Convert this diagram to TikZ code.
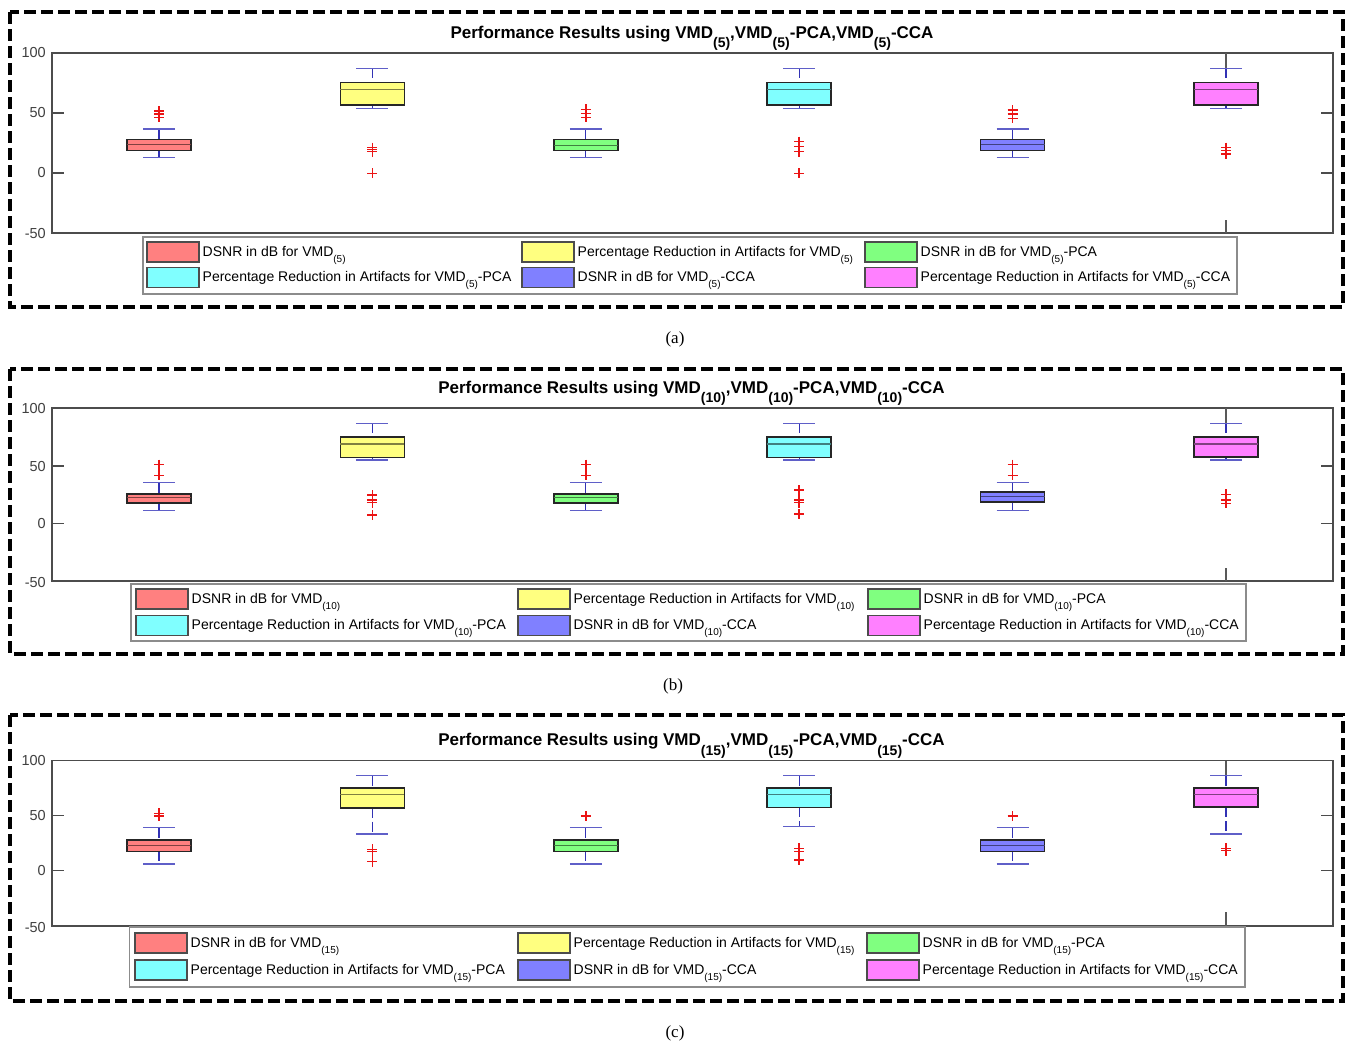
\documentclass[tikz,border=0pt]{standalone}
\usepackage{fontspec}
\setmainfont{Liberation Sans}
\newfontfamily\capserif{Liberation Serif}
\definecolor{cred}{RGB}{255,128,128}
\definecolor{cyel}{RGB}{255,255,128}
\definecolor{cgrn}{RGB}{128,255,128}
\definecolor{ccya}{RGB}{128,255,255}
\definecolor{cblu}{RGB}{128,128,255}
\definecolor{cmag}{RGB}{255,128,255}
\definecolor{wblue}{RGB}{50,50,180}
\definecolor{capblue}{RGB}{95,95,200}
\definecolor{ored}{RGB}{235,20,20}
\newcommand\lsub[1]{\raisebox{-6pt}{\fontsize{10}{10}\selectfont #1}}
\newcommand\tsub[1]{\raisebox{-9.5pt}{\fontsize{14}{14}\selectfont\bfseries #1}}
\tikzset{
  dashframe/.style={line width=3.2pt, dash pattern=on 12pt off 5pt, black},
  axesbox/.style={draw=black!70, line width=1.2pt},
  tickl/.style={draw=black!70, line width=1.1pt},
  ticklab/.style={font=\fontsize{14.5}{14.5}\selectfont, text=black!75, anchor=east, inner sep=0pt},
  whisk/.style={draw=wblue, line width=1.2pt, dash pattern=on 10pt off 4pt},
  extl/.style={draw=black!65, line width=1.2pt},
  capl/.style={draw=capblue, line width=1.5pt},
  boxs/.style={draw=black!85, line width=1.6pt},
  outs/.style={draw=ored, line width=1.5pt},
  legbox/.style={draw=black!45, line width=1.3pt, fill=white},
  legp/.style={draw=black!70, line width=1.1pt},
  legt/.style={font=\fontsize{14}{14}\selectfont, inner sep=0pt, anchor=base west},
  ttl/.style={font=\fontsize{17}{17}\selectfont\bfseries, inner sep=0pt, anchor=base},
  capt/.style={font=\capserif\fontsize{17}{17}\selectfont, inner sep=0pt}
}
% box plot: #1 x, #2 box top, #3 box bottom, #4 median, #5 top cap, #6 bottom cap, #7 colour
\newcommand\bxp[7]{%
  \draw[whisk] (#1,#5) -- (#1,#2);
  \draw[whisk] (#1,#3) -- (#1,#6);
  \draw[capl] (#1-16,#5) -- (#1+16,#5);
  \draw[capl] (#1-16,#6) -- (#1+16,#6);
  \draw[boxs, fill=#7] (#1-32,#2) rectangle (#1+32,#3);
  \draw[draw=#7!50!black, line width=1.3pt] (#1-32,#4) -- (#1+32,#4);
}
\newcommand\outl[2]{%
  \foreach \yy in {#2} {\draw[outs] (#1-5,\yy) -- (#1+5,\yy) (#1,\yy-5) -- (#1,\yy+5);}
}
% legend entry: #1 name, #2 patch x, #3 row y, #4 colour, #5 text
\newcommand\legent[5]{%
  \draw[legp, fill=#4] (#2,#3-10) rectangle (#2+52,#3+10);
  \node[legt] (#1) at (#2+55.5,#3+4) {#5};
}
% axes: #1 top, #2 50, #3 0, #4 -50, #5 prefix
\newcommand\axs[5]{%
  \draw[axesbox] (52,#1) rectangle (1333,#4);
  \foreach \ty in {#1,#2,#3,#4} {\draw[tickl] (52,\ty) -- (64,\ty);}
  \foreach \ty in {#2,#3} {\draw[tickl] (1321,\ty) -- (1333,\ty);}
  \node[ticklab] (#5t1) at (46,#1) {100};
  \node[ticklab] (#5t2) at (46,#2) {50};
  \node[ticklab] (#5t3) at (46,#3) {0};
  \node[ticklab] (#5t4) at (46,#4+1) {-50};
}
\begin{document}
\begin{tikzpicture}[x=1pt,y=-1pt]
\useasboundingbox[fill=white] (0,0) rectangle (1349,1045);

% ================= panel (a)
\draw[dashframe] (10,12) rectangle (1343,307);
\node[ttl] (ta) at (692,38) {Performance Results using VMD\tsub{(5)},VMD\tsub{(5)}-PCA,VMD\tsub{(5)}-CCA};
\axs{53}{113}{173}{233}{a}
\draw[extl] (1226,53) -- (1226,68.3);
\draw[extl] (1226,220) -- (1226,233);
\bxp{159}{139.3}{150.3}{144.3}{129}{157.7}{cred}
\outl{159}{111,114,117.3}
\bxp{372.4}{82.3}{105}{89.3}{68.3}{108.7}{cyel}
\outl{372.4}{147.7,149.7,151.7,173.3}
\bxp{585.8}{139.3}{150.3}{145.3}{129}{157.7}{cgrn}
\outl{585.8}{109.3,113.3,117.3}
\bxp{799.2}{82.3}{105}{89.3}{68.3}{108.7}{ccya}
\outl{799.2}{141.7,146.7,151.7,173.3}
\bxp{1012.6}{139.3}{150.3}{144.3}{129}{157.7}{cblu}
\outl{1012.6}{110,114,118.3}
\bxp{1226}{82.3}{105}{89.3}{68.3}{108.7}{cmag}
\outl{1226}{147.7,150.7,154}
\draw[legbox] (143,237) rectangle (1237,294);
\legent{la1}{147}{252}{cred}{DSNR in dB for VMD\lsub{(5)}}
\legent{la2}{522}{252}{cyel}{Percentage Reduction in Artifacts for VMD\lsub{(5)}}
\legent{la3}{865}{252}{cgrn}{DSNR in dB for VMD\lsub{(5)}-PCA}
\legent{la4}{147}{277.5}{ccya}{Percentage Reduction in Artifacts for VMD\lsub{(5)}-PCA}
\legent{la5}{522}{277.5}{cblu}{DSNR in dB for VMD\lsub{(5)}-CCA}
\legent{la6}{865}{277.5}{cmag}{Percentage Reduction in Artifacts for VMD\lsub{(5)}-CCA}
\node[capt] (capa) at (675,339) {(a)};

% ================= panel (b)
\draw[dashframe] (10,369) rectangle (1343,654);
\node[ttl] (tb) at (691.5,393.3) {Performance Results using VMD\tsub{(10)},VMD\tsub{(10)}-PCA,VMD\tsub{(10)}-CCA};
\axs{408}{466}{523.3}{581}{b}
\draw[extl] (1226,408) -- (1226,423.3);
\draw[extl] (1226,568) -- (1226,581);
\bxp{159}{494}{502.7}{497.3}{482.7}{510.3}{cred}
\outl{159}{464.7,475.3}
\bxp{372.4}{436.7}{457.3}{444}{423.3}{460}{cyel}
\outl{372.4}{495,500,502.7,515}
\bxp{585.8}{494}{502.7}{497.3}{482.7}{510.3}{cgrn}
\outl{585.8}{464.7,475.3}
\bxp{799.2}{436.7}{457.3}{444}{423.3}{460}{ccya}
\outl{799.2}{490,500,502.7,514}
\bxp{1012.6}{491.7}{502}{496.7}{482.7}{510.3}{cblu}
\outl{1012.6}{464.7,475.3}
\bxp{1226}{436.7}{456.7}{444}{423.3}{460}{cmag}
\outl{1226}{494.3,500,503.3}
\draw[legbox] (131,584) rectangle (1246,641);
\legent{lb1}{136}{599}{cred}{DSNR in dB for VMD\lsub{(10)}}
\legent{lb2}{518}{599}{cyel}{Percentage Reduction in Artifacts for VMD\lsub{(10)}}
\legent{lb3}{868}{599}{cgrn}{DSNR in dB for VMD\lsub{(10)}-PCA}
\legent{lb4}{136}{625.5}{ccya}{Percentage Reduction in Artifacts for VMD\lsub{(10)}-PCA}
\legent{lb5}{518}{625.5}{cblu}{DSNR in dB for VMD\lsub{(10)}-CCA}
\legent{lb6}{868}{625.5}{cmag}{Percentage Reduction in Artifacts for VMD\lsub{(10)}-CCA}
\node[capt] (capb) at (673,686) {(b)};

% ================= panel (c)
\draw[dashframe] (10,715) rectangle (1343,1001);
\node[ttl] (tc) at (691.5,745.7) {Performance Results using VMD\tsub{(15)},VMD\tsub{(15)}-PCA,VMD\tsub{(15)}-CCA};
\axs{760.7}{815.7}{870.7}{926}{c}
\draw[extl] (1226,760.7) -- (1226,775.7);
\draw[extl] (1226,912.3) -- (1226,926);
\bxp{159}{840}{851.3}{845.3}{827.7}{864}{cred}
\outl{159}{813.3,816}
\bxp{372.4}{788}{807.7}{794.3}{775.7}{834}{cyel}
\outl{372.4}{849.3,851.7,861.7}
\bxp{585.8}{840}{851.3}{845.3}{827.7}{864}{cgrn}
\outl{585.8}{816}
\bxp{799.2}{788}{807.3}{794.3}{775.7}{826.7}{ccya}
\outl{799.2}{848.3,851.7,860}
\bxp{1012.6}{840}{851.3}{845.3}{827.7}{864}{cblu}
\outl{1012.6}{816}
\bxp{1226}{788}{807}{794.3}{775.7}{834}{cmag}
\outl{1226}{848.3,850.7}
\draw[legbox] (129.5,927) rectangle (1245,987);
\legent{lc1}{135}{943}{cred}{DSNR in dB for VMD\lsub{(15)}}
\legent{lc2}{518}{943}{cyel}{Percentage Reduction in Artifacts for VMD\lsub{(15)}}
\legent{lc3}{867}{943}{cgrn}{DSNR in dB for VMD\lsub{(15)}-PCA}
\legent{lc4}{135}{970}{ccya}{Percentage Reduction in Artifacts for VMD\lsub{(15)}-PCA}
\legent{lc5}{518}{970}{cblu}{DSNR in dB for VMD\lsub{(15)}-CCA}
\legent{lc6}{867}{970}{cmag}{Percentage Reduction in Artifacts for VMD\lsub{(15)}-CCA}
\node[capt] (capc) at (675,1033) {(c)};
\end{tikzpicture}
\end{document}
